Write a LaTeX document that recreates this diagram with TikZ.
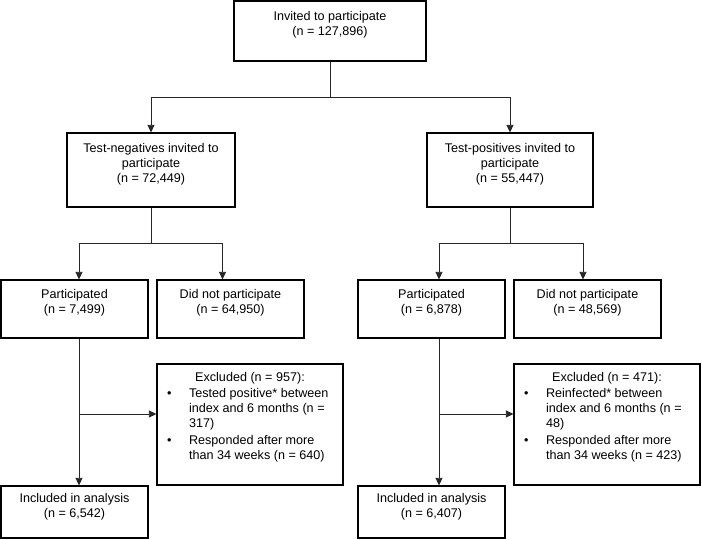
\documentclass[tikz,border=0pt]{standalone}
\usepackage{fontspec}
\setmainfont{Liberation Sans}
\usetikzlibrary{arrows.meta,calc}
\newcommand\fsz{\fontsize{12.6pt}{15pt}\selectfont}
\newcommand\ml[1]{\begin{tabular}[t]{@{}c@{}}#1\end{tabular}}
\newcommand\bl[1]{\begin{tabular}[t]{@{}p{21.9pt}@{}l@{}}#1\end{tabular}}
\begin{document}
\begin{tikzpicture}[x=1pt,y=-1pt,font=\fsz,
  box/.style={draw, line width=1.2pt, inner sep=0pt},
  lbl/.style={anchor=base, inner sep=0pt},
  conn/.style={line width=0.8pt, draw=black!85},
  arr/.style={conn, -{Triangle[width=7pt,length=7.5pt]}}]
\useasboundingbox (0,0) rectangle (702,540);
% boxes
\node[box, minimum width=192pt, minimum height=60pt] (top) at (330,31) {};
\node[box, minimum width=168pt, minimum height=74pt] (tn) at (151,170) {};
\node[box, minimum width=166pt, minimum height=74pt] (tp) at (510,170) {};
\node[box, minimum width=147pt, minimum height=58pt] (p1) at (74.5,309) {};
\node[box, minimum width=147pt, minimum height=58pt] (d1) at (230.5,309) {};
\node[box, minimum width=186pt, minimum height=121pt] (e1) at (250,424.5) {};
\node[box, minimum width=147pt, minimum height=52pt] (i1) at (74.5,512) {};
\node[box, minimum width=147pt, minimum height=58pt] (p2) at (431.5,309) {};
\node[box, minimum width=147pt, minimum height=58pt] (d2) at (587.5,309) {};
\node[box, minimum width=186pt, minimum height=121pt] (e2) at (607,424.5) {};
\node[box, minimum width=147pt, minimum height=52pt] (i2) at (431.5,512) {};
% labels
\node[lbl] (topt) at ($(top.north)+(0,20)$) {\ml{Invited to participate\\(n = 127,896)}};
\node[lbl] (tnt) at ($(tn.north)+(0,20)$) {\ml{Test-negatives invited to\\participate\\(n = 72,449)}};
\node[lbl] (tpt) at ($(tp.north)+(0,20)$) {\ml{Test-positives invited to\\participate\\(n = 55,447)}};
\node[lbl] (p1t) at ($(p1.north)+(0,19)$) {\ml{Participated\\(n = 7,499)}};
\node[lbl] (d1t) at ($(d1.north)+(0,19)$) {\ml{Did not participate\\(n = 64,950)}};
\node[lbl] (i1t) at ($(i1.north)+(0,17.5)$) {\ml{Included in analysis\\(n = 6,542)}};
\node[lbl] (p2t) at ($(p2.north)+(0,19)$) {\ml{Participated\\(n = 6,878)}};
\node[lbl] (d2t) at ($(d2.north)+(0,19)$) {\ml{Did not participate\\(n = 48,569)}};
\node[lbl] (i2t) at ($(i2.north)+(0,17.5)$) {\ml{Included in analysis\\(n = 6,407)}};
\node[lbl] (e1h) at ($(e1.north)+(0,18.5)$) {Excluded (n = 957):};
\node[lbl, anchor=base west] (e1b) at ($(e1.north west)+(10.6,34)$) {\bl{\textbullet & Tested positive* between\\ & index and 6 months (n =\\ & 317)\\[2.5pt] \textbullet & Responded after more\\ & than 34 weeks (n = 640)}};
\node[lbl] (e2h) at ($(e2.north)+(0,18.5)$) {Excluded (n = 471):};
\node[lbl, anchor=base west] (e2b) at ($(e2.north west)+(10.6,34)$) {\bl{\textbullet & Reinfected* between\\ & index and 6 months (n =\\ & 48)\\[2.5pt] \textbullet & Responded after more\\ & than 34 weeks (n = 423)}};
% connectors
\coordinate (j0) at (330,97);
\draw[arr] (top.south) -- (j0) -| (tn.north);
\draw[arr] (j0) -| (tp.north);
\coordinate (j1) at (151,243);
\draw[arr] (tn.south) -- (j1) -| ($(p1.north)+(4.5,0)$);
\draw[arr] (j1) -| ($(d1.north)+(-8,0)$);
\coordinate (j2) at (510,243);
\draw[arr] (tp.south) -- (j2) -| ($(p2.north)+(7.5,0)$);
\draw[arr] (j2) -| ($(d2.north)+(-4.5,0)$);
\draw[arr] ($(p1.south)+(4.5,0)$) -- ($(i1.north)+(4.5,0)$);
\draw[arr] ($(p2.south)+(7.5,0)$) -- ($(i2.north)+(7.5,0)$);
\coordinate (b1) at (79,414);
\coordinate (b2) at (439,414);
\draw[arr] (b1) -- (b1 -| e1.west);
\draw[arr] (b2) -- (b2 -| e2.west);
\end{tikzpicture}
\end{document}
